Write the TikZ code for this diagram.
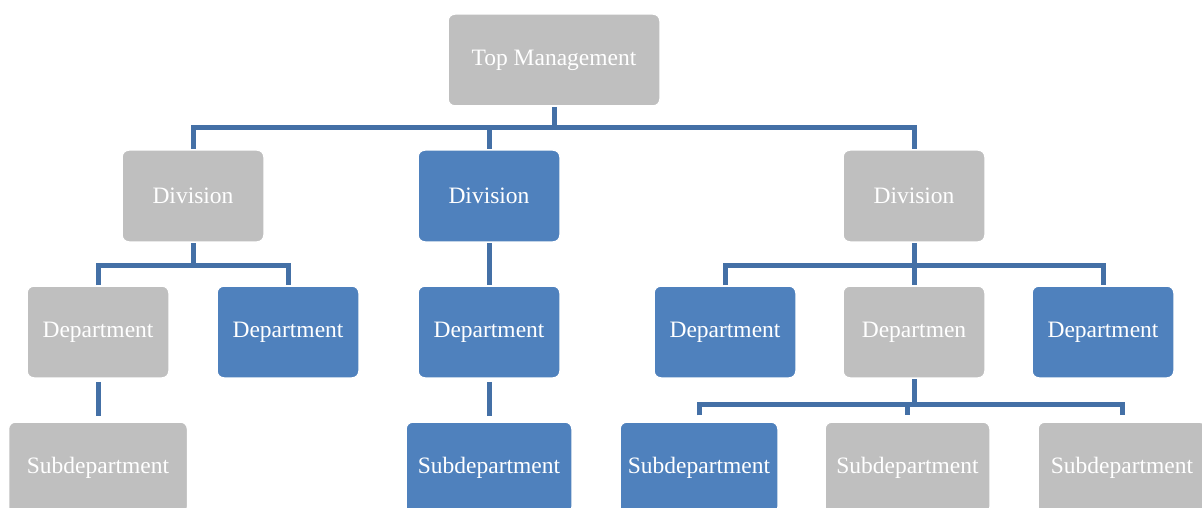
\documentclass[tikz,border=0pt]{standalone}
\usepackage{fontspec}
\setmainfont{Liberation Serif}
\usetikzlibrary{backgrounds}
\definecolor{boxgray}{HTML}{BFBFBF}
\definecolor{boxblue}{HTML}{4F81BD}
\definecolor{conn}{HTML}{4470A6}
\tikzset{
  x=1pt,y=1pt,
  orgbox/.style={rounded corners=7pt, draw=white, line width=1.5pt, minimum width=142pt, minimum height=92pt,
    text=white, font=\fontsize{23.5}{27}\selectfont, inner sep=0pt},
  graybox/.style={orgbox, fill=boxgray},
  bluebox/.style={orgbox, fill=boxblue},
  link/.style={draw=conn, line width=5pt, line join=miter}
}
\begin{document}
\begin{tikzpicture}
\useasboundingbox (0,0) rectangle (1202,-508);
\clip (0,0) rectangle (1202,-508);
% level 1
\node[graybox, minimum width=212pt] (top) at (554,-60) {Top Management};
% level 2
\node[graybox] (d1) at (193,-196) {Division};
\node[bluebox] (d2) at (489,-196) {Division};
\node[graybox] (d3) at (914,-196) {Division};
% level 3
\node[graybox] (p1) at (98,-332) {Department};
\node[bluebox] (p2) at (288,-332) {Department};
\node[bluebox] (p3) at (489,-332) {Department};
\node[bluebox] (p4) at (725,-332) {Department};
\node[graybox] (p5) at (914,-332) {Departmen};
\node[bluebox] (p6) at (1103,-332) {Department};
% level 4
\node[graybox, minimum width=179pt] (s1) at (98,-468) {Subdepartment};
\node[bluebox, minimum width=166pt] (s2) at (489,-468) {Subdepartment};
\node[bluebox, minimum width=158pt] (s3) at (699,-468) {Subdepartment};
\node[graybox, minimum width=165pt] (s4) at (907.5,-468) {Subdepartment};
\node[graybox, minimum width=168pt] (s5) at (1122,-468) {Subdepartment};
% connectors
\coordinate (h1) at (554,-128);
\coordinate (h2) at (193,-265);
\coordinate (h3) at (914,-265);
\coordinate (h4) at (914,-404);
\begin{scope}[on background layer]
\draw[link] (top.south) -- (h1);
\draw[link] (d1.north) |- (h1) -| (d3.north);
\draw[link] (d2.north |- h1) -- (d2.north);
\draw[link] (d1.south) -- (h2);
\draw[link] (p1.north) |- (h2) -| (p2.north);
\draw[link] (d2.south) -- (p3.north);
\draw[link] (d3.south) -- (h3);
\draw[link] (p4.north) |- (h3) -| (p6.north);
\draw[link] (h3) -- (p5.north);
\draw[link, shorten <=3pt, shorten >=5pt] (p1.south) -- (s1.north);
\draw[link, shorten <=3pt, shorten >=5pt] (p3.south) -- (s2.north);
\draw[link] (p5.south) -- (h4);
\draw[link, shorten <=6pt] (s3.north) |- (h4);
\draw[link, shorten >=6pt] (h4) -| (s5.north);
\draw[link, shorten >=6pt] (s4.north |- h4) -- (s4.north);
\end{scope}
\end{tikzpicture}
\end{document}
